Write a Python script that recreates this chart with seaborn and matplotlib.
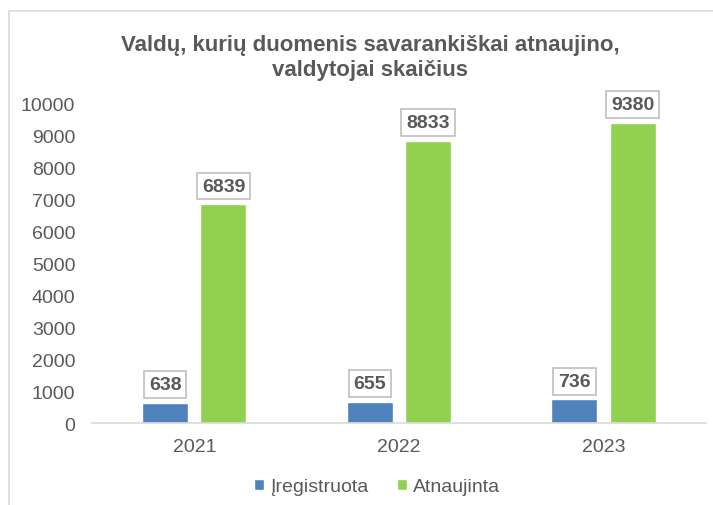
import matplotlib
matplotlib.use("Agg")
import matplotlib.pyplot as plt
import matplotlib.patches as mpatches
import pandas as pd
import seaborn as sns

years = ["2021", "2022", "2023"]
registered = [638, 655, 736]
updated = [6839, 8833, 9380]
series_names = ["Įregistruota", "Atnaujinta"]
colors = ["#4F81BD", "#92D050"]

df = pd.DataFrame({
    "year": years * 2,
    "value": registered + updated,
    "series": [series_names[0]] * 3 + [series_names[1]] * 3,
})

sns.set_style("white")
plt.rcParams["font.family"] = ["Liberation Sans", "DejaVu Sans"]
text_color = "#595959"

fig = plt.figure(figsize=(7.13, 5.06), dpi=100)
ax = fig.add_axes([0.129, 0.162, 0.861, 0.632])

sns.barplot(data=df, x="year", y="value", hue="series", palette=colors,
            width=0.57, gap=0.21, ax=ax, saturation=1)

for container in ax.containers:
    ax.bar_label(container, fmt="%d", padding=7, fontsize=14, fontweight="bold",
                 color=text_color, clip_on=False,
                 bbox=dict(boxstyle="square,pad=0.25", fc="white", ec="#BFBFBF", lw=1.2))

ax.set_xlim(-0.5, 2.5)
ax.set_ylim(0, 10000)
ax.set_yticks(range(0, 10001, 1000))
ax.set_xlabel("")
ax.set_ylabel("")
for side in ["left", "right", "top"]:
    ax.spines[side].set_visible(False)
ax.spines["bottom"].set_color("#D9D9D9")
ax.spines["bottom"].set_linewidth(1.2)
ax.tick_params(axis="y", length=0, pad=12, labelsize=14, labelcolor=text_color)
ax.tick_params(axis="x", length=0, pad=11, labelsize=14, labelcolor=text_color)

handles, labels = ax.get_legend_handles_labels()
ax.get_legend().remove()
fig.legend(handles, labels, loc="center", bbox_to_anchor=(377 / 713, 1 - 488 / 506),
           ncol=2, frameon=False, fontsize=14, labelcolor=text_color,
           handlelength=0.5, handleheight=0.5, handletextpad=0.3, columnspacing=1.5)

fig.text(370 / 713, 1 - 58 / 506, "Valdų, kurių duomenis savarankiškai atnaujino,\nvaldytojai skaičius",
         ha="center", va="center", fontsize=16, fontweight="bold", color=text_color,
         linespacing=1.2)

fig.patches.append(mpatches.Rectangle((9 / 713, -0.1), 1.2, 1.1 - 12 / 506, transform=fig.transFigure,
                                      fill=False, ec="#D9D9D9", lw=1.2))

fig.savefig("out.png", dpi=100)
